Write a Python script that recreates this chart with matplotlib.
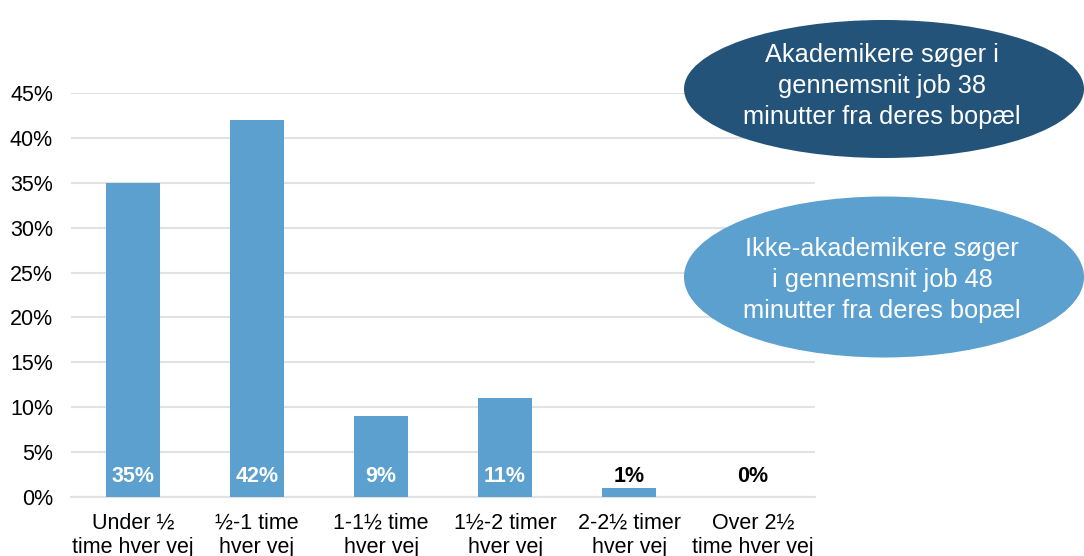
import numpy as np
import matplotlib.pyplot as plt
from matplotlib.patches import Ellipse

plt.rcParams['font.family'] = ['Liberation Sans', 'DejaVu Sans']

categories = ["Under ½\ntime hver vej", "½-1 time\nhver vej", "1-1½ time\nhver vej",
              "1½-2 timer\nhver vej", "2-2½ timer\nhver vej", "Over 2½\ntime hver vej"]
values = [0.35, 0.42, 0.09, 0.11, 0.01, 0.00]
value_labels = ["35%", "42%", "9%", "11%", "1%", "0%"]
yticks = [0, 0.05, 0.10, 0.15, 0.20, 0.25, 0.30, 0.35, 0.40, 0.45]

bar_color = "#5BA0CF"
dark_color = "#235379"
grid_color = "#E2E2E2"

fig = plt.figure(figsize=(10.84, 5.56), dpi=100)
ax = fig.add_axes([0.0655, 0.1061, 0.6865, 0.7266])

x = np.arange(len(categories))
ax.bar(x, values, width=0.435, color=bar_color, zorder=3)

for i, (v, lab) in enumerate(zip(values, value_labels)):
    col = "white" if v > 0.05 else "black"
    ax.text(x[i], 0.023, lab, ha="center", va="center", color=col,
            fontsize=15.5, fontweight="bold", zorder=4)

ax.set_xlim(-0.5, len(categories) - 0.5)
ax.set_ylim(0, 0.45)
ax.set_yticks(yticks)
ax.set_yticklabels([f"{int(round(t * 100))}%" for t in yticks], fontsize=15.5)
ax.set_xticks(x)
ax.set_xticklabels(categories, fontsize=15.5, linespacing=1.22)
ax.tick_params(axis="both", length=0)
ax.tick_params(axis="y", pad=13)
ax.tick_params(axis="x", pad=11)
ax.grid(axis="y", color=grid_color, lw=1.5, zorder=0)
for s in ["top", "right", "left"]:
    ax.spines[s].set_visible(False)
ax.spines["bottom"].set_color(grid_color)
ax.spines["bottom"].set_linewidth(1.5)

W, H = 1084, 556
e1 = Ellipse((884 / W, 1 - 89 / H), 400 / W, 138 / H, transform=fig.transFigure,
             facecolor=dark_color, edgecolor="none")
e2 = Ellipse((884 / W, 1 - 277 / H), 400 / W, 161 / H, transform=fig.transFigure,
             facecolor=bar_color, edgecolor="none")
fig.add_artist(e1)
fig.add_artist(e2)
fig.text(882 / W, 1 - 86 / H, "Akademikere søger i\ngennemsnit job 38\nminutter fra deres bopæl",
         ha="center", va="center", color="white", fontsize=18.3, linespacing=1.35)
fig.text(882 / W, 1 - 280 / H, "Ikke-akademikere søger\ni gennemsnit job 48\nminutter fra deres bopæl",
         ha="center", va="center", color="white", fontsize=18.3, linespacing=1.35)

fig.savefig("out.png", dpi=100)
